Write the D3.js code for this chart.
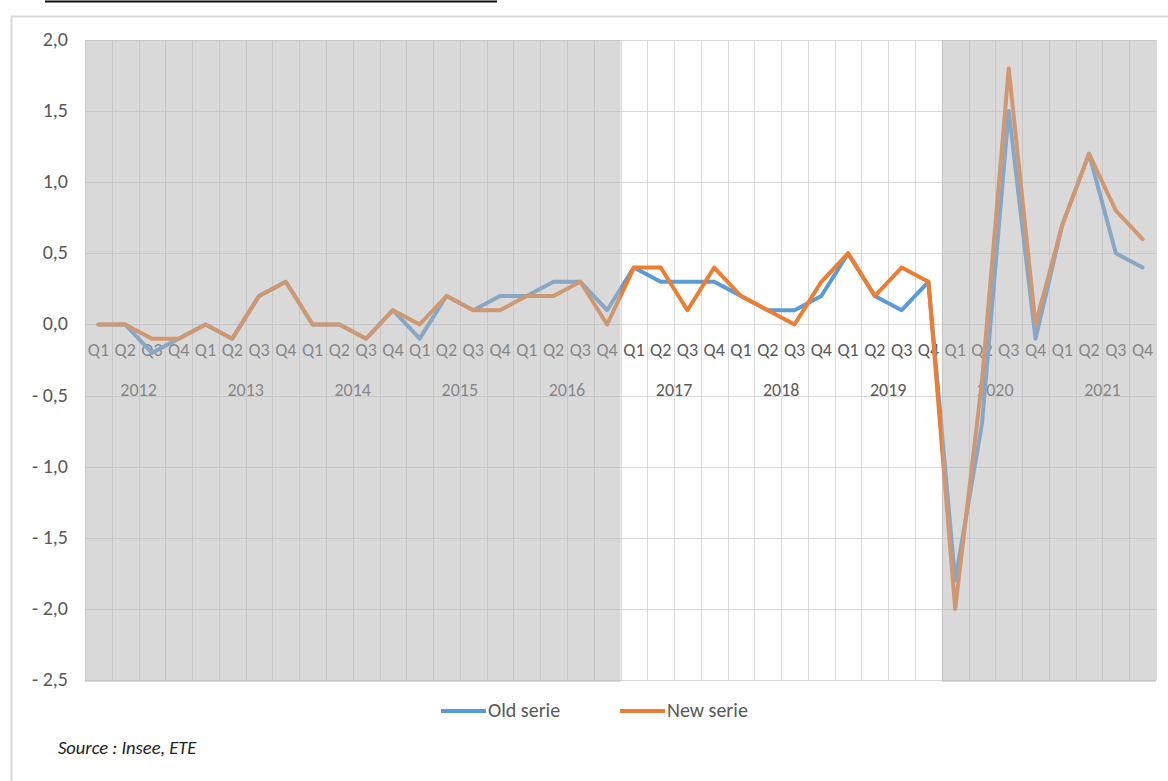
<!DOCTYPE html>
<html>
<head>
<meta charset="utf-8">
<script src="https://cdn.jsdelivr.net/npm/d3@7"></script>
<style>
  body { margin: 0; background: #fff; }
  svg { display: block; font-family: Carlito, Calibri, "Liberation Sans Narrow", "Open Sans", sans-serif; }
</style>
</head>
<body>
<div id="chart"></div>
<script>
const years = [2012, 2013, 2014, 2015, 2016, 2017, 2018, 2019, 2020, 2021];
const quarters = ['Q1', 'Q2', 'Q3', 'Q4'];
const yTicks = [2, 1.5, 1, 0.5, 0, -0.5, -1, -1.5, -2, -2.5];
const shadedPeriods = [[2012, 2016], [2020, 2021]];

const oldSerie = [
  0, 0, -0.2, -0.1,
  0, -0.1, 0.2, 0.3,
  0, 0, -0.1, 0.1,
  -0.1, 0.2, 0.1, 0.2,
  0.2, 0.3, 0.3, 0.1,
  0.4, 0.3, 0.3, 0.3,
  0.2, 0.1, 0.1, 0.2,
  0.5, 0.2, 0.1, 0.3,
  -1.8, -0.7, 1.5, -0.1,
  0.7, 1.2, 0.5, 0.4
];
const newSerie = [
  0, 0, -0.1, -0.1,
  0, -0.1, 0.2, 0.3,
  0, 0, -0.1, 0.1,
  0, 0.2, 0.1, 0.1,
  0.2, 0.2, 0.3, 0,
  0.4, 0.4, 0.1, 0.4,
  0.2, 0.1, 0, 0.3,
  0.5, 0.2, 0.4, 0.3,
  -2.0, -0.4, 1.8, 0,
  0.7, 1.2, 0.8, 0.6
];

const W = 1168, H = 781;
const plotLeft = 85, plotRight = 1156, plotTop = 40, plotBottom = 680;

// one category per quarter
const cats = [];
years.forEach(yr => quarters.forEach(q => cats.push(yr + q)));

const svg = d3.select('#chart').append('svg')
  .attr('width', W)
  .attr('height', H);

// outer frame and cut-off title underline
svg.append('line').attr('x1', 45).attr('x2', 497).attr('y1', 1.5).attr('y2', 1.5)
  .style('stroke', '#111').style('stroke-width', 2);
svg.append('path').attr('d', `M11.5,${H} V16.5 H${W}`)
  .style('fill', 'none').style('stroke', '#d9d9d9').style('stroke-width', 2);

const x = d3.scaleBand().domain(cats).range([plotLeft, plotRight]).paddingInner(0).paddingOuter(0);
const y = d3.scaleLinear().domain([-2.5, 2]).range([plotBottom, plotTop]);

// gridlines
const grid = svg.append('g');
grid.selectAll('.hg').data(yTicks).enter().append('line')
  .attr('x1', plotLeft).attr('x2', plotRight)
  .attr('y1', d => Math.round(y(d)) + 0.5).attr('y2', d => Math.round(y(d)) + 0.5)
  .style('stroke', '#d9d9d9');
const bounds = cats.map(c => x(c)).concat([plotRight]);
grid.selectAll('.vg').data(bounds).enter().append('line')
  .attr('x1', d => Math.round(d) + 0.5).attr('x2', d => Math.round(d) + 0.5)
  .attr('y1', plotTop).attr('y2', plotBottom)
  .style('stroke', '#d9d9d9');

// y axis labels
const fmt = v => (v < 0 ? '- ' : '') + Math.abs(v).toFixed(1).replace('.', ',');
svg.selectAll('.yl').data(yTicks).enter().append('text')
  .attr('x', 68).attr('y', d => y(d) + 6)
  .attr('text-anchor', 'end')
  .style('font-size', '20px').style('fill', '#595959')
  .text(fmt);

// category labels (axis crosses at 0)
const axisY = y(0);
svg.selectAll('.ql').data(cats).enter().append('text')
  .attr('x', d => x(d) + x.bandwidth() / 2)
  .attr('y', axisY + 32)
  .attr('text-anchor', 'middle')
  .style('font-size', '18px').style('fill', '#595959')
  .text(d => d.slice(4));
svg.selectAll('.yrl').data(years).enter().append('text')
  .attr('x', d => x(d + 'Q1') + x.bandwidth() * 2)
  .attr('y', axisY + 72)
  .attr('text-anchor', 'middle')
  .style('font-size', '18px').style('fill', '#595959')
  .text(d => d);

// series lines
const line = d3.line()
  .x((d, i) => x(cats[i]) + x.bandwidth() / 2)
  .y(d => y(d));
svg.append('path').datum(oldSerie).attr('d', line)
  .style('fill', 'none').style('stroke', '#5b9bd5').style('stroke-width', 4)
  .style('stroke-linejoin', 'round').style('stroke-linecap', 'round');
svg.append('path').datum(newSerie).attr('d', line)
  .style('fill', 'none').style('stroke', '#ed7d31').style('stroke-width', 4)
  .style('stroke-linejoin', 'round').style('stroke-linecap', 'round');

// shaded periods, drawn over everything in the plot
svg.selectAll('.shade').data(shadedPeriods).enter().append('rect')
  .attr('x', d => x(d[0] + 'Q1'))
  .attr('y', plotTop)
  .attr('width', d => x(d[1] + 'Q4') + x.bandwidth() - x(d[0] + 'Q1'))
  .attr('height', plotBottom - plotTop + 2)
  .style('fill', '#b3b3b3')
  .style('opacity', 0.5);

// legend
const legend = svg.append('g').attr('transform', 'translate(441,711)');
[['Old serie', '#5b9bd5', 0], ['New serie', '#ed7d31', 179]].forEach(([name, color, dx]) => {
  legend.append('line').attr('x1', dx).attr('x2', dx + 45).attr('y1', 0).attr('y2', 0)
    .style('stroke', color).style('stroke-width', 4);
  legend.append('text').attr('x', dx + 47).attr('y', 6)
    .style('font-size', '20px').style('fill', '#595959')
    .text(name);
});

// source
svg.append('text').attr('x', 58).attr('y', 754)
  .style('font-size', '18.5px').style('font-style', 'italic').style('fill', '#222')
  .text('Source : Insee, ETE');
</script>
</body>
</html>
